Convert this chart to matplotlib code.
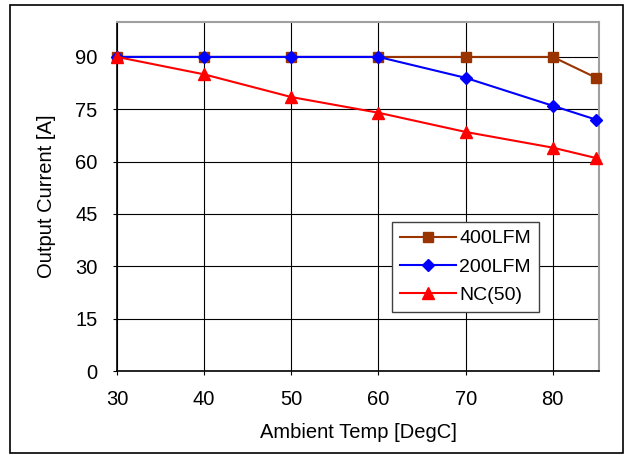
import matplotlib
matplotlib.use("Agg")
import matplotlib.pyplot as plt
from matplotlib.patches import Rectangle

plt.rcParams['font.family'] = ['Liberation Sans', 'DejaVu Sans']

temps = [30, 40, 50, 60, 70, 80, 85]
lfm400 = [90, 90, 90, 90, 90, 90, 84]
lfm200 = [90, 90, 90, 90, 84, 76, 72]
nc50 = [90, 85, 78.5, 74, 68.5, 64, 61]
yticks = [0, 15, 30, 45, 60, 75, 90]
xticks = [30, 40, 50, 60, 70, 80]

fig = plt.figure(figsize=(6.25, 4.55), dpi=100)
ax = fig.add_axes([0.1872, 0.1846, 0.7712, 0.767])

ax.plot(temps, lfm400, color='#993300', marker='s', markersize=7, lw=1.5, label='400LFM', clip_on=False, zorder=3)
ax.plot(temps, lfm200, color='#0000FF', marker='D', markersize=6.5, lw=1.5, label='200LFM', clip_on=False, zorder=4)
ax.plot(temps, nc50, color='#FF0000', marker='^', markersize=8, lw=1.5, label='NC(50)', clip_on=False, zorder=5)

ax.set_xlim(30, 85.3)
ax.set_ylim(0, 100)
ax.set_xticks(xticks)
ax.set_yticks(yticks)
ax.grid(True, color='black', lw=0.8)
ax.tick_params(labelsize=14.5, length=3, direction='out')
ax.tick_params(axis='x', pad=11)
ax.tick_params(axis='y', pad=11)
for s in ['left', 'bottom']:
    ax.spines[s].set_color('black')
    ax.spines[s].set_linewidth(1.2)
for s in ['top', 'right']:
    ax.spines[s].set_color('#a0a0a0')
    ax.spines[s].set_linewidth(1.5)

ax.set_xlabel('Ambient Temp [DegC]', fontsize=14.5, labelpad=10)
ax.set_ylabel('Output Current [A]', fontsize=14.5, labelpad=14)

leg = ax.legend(loc='upper left', bbox_to_anchor=(0.571, 0.427), fontsize=14,
                fancybox=False, framealpha=1, edgecolor='#404040', borderpad=0.4,
                handlelength=2.9, labelspacing=0.55, handletextpad=0.15, borderaxespad=0)
leg.get_frame().set_linewidth(1.0)
leg.set_zorder(10)

fig.patches.append(Rectangle((10/625, 2/455), 613/625, 448/455, transform=fig.transFigure,
                             fill=False, edgecolor='black', lw=1.2))

fig.savefig('out.png', dpi=100)
